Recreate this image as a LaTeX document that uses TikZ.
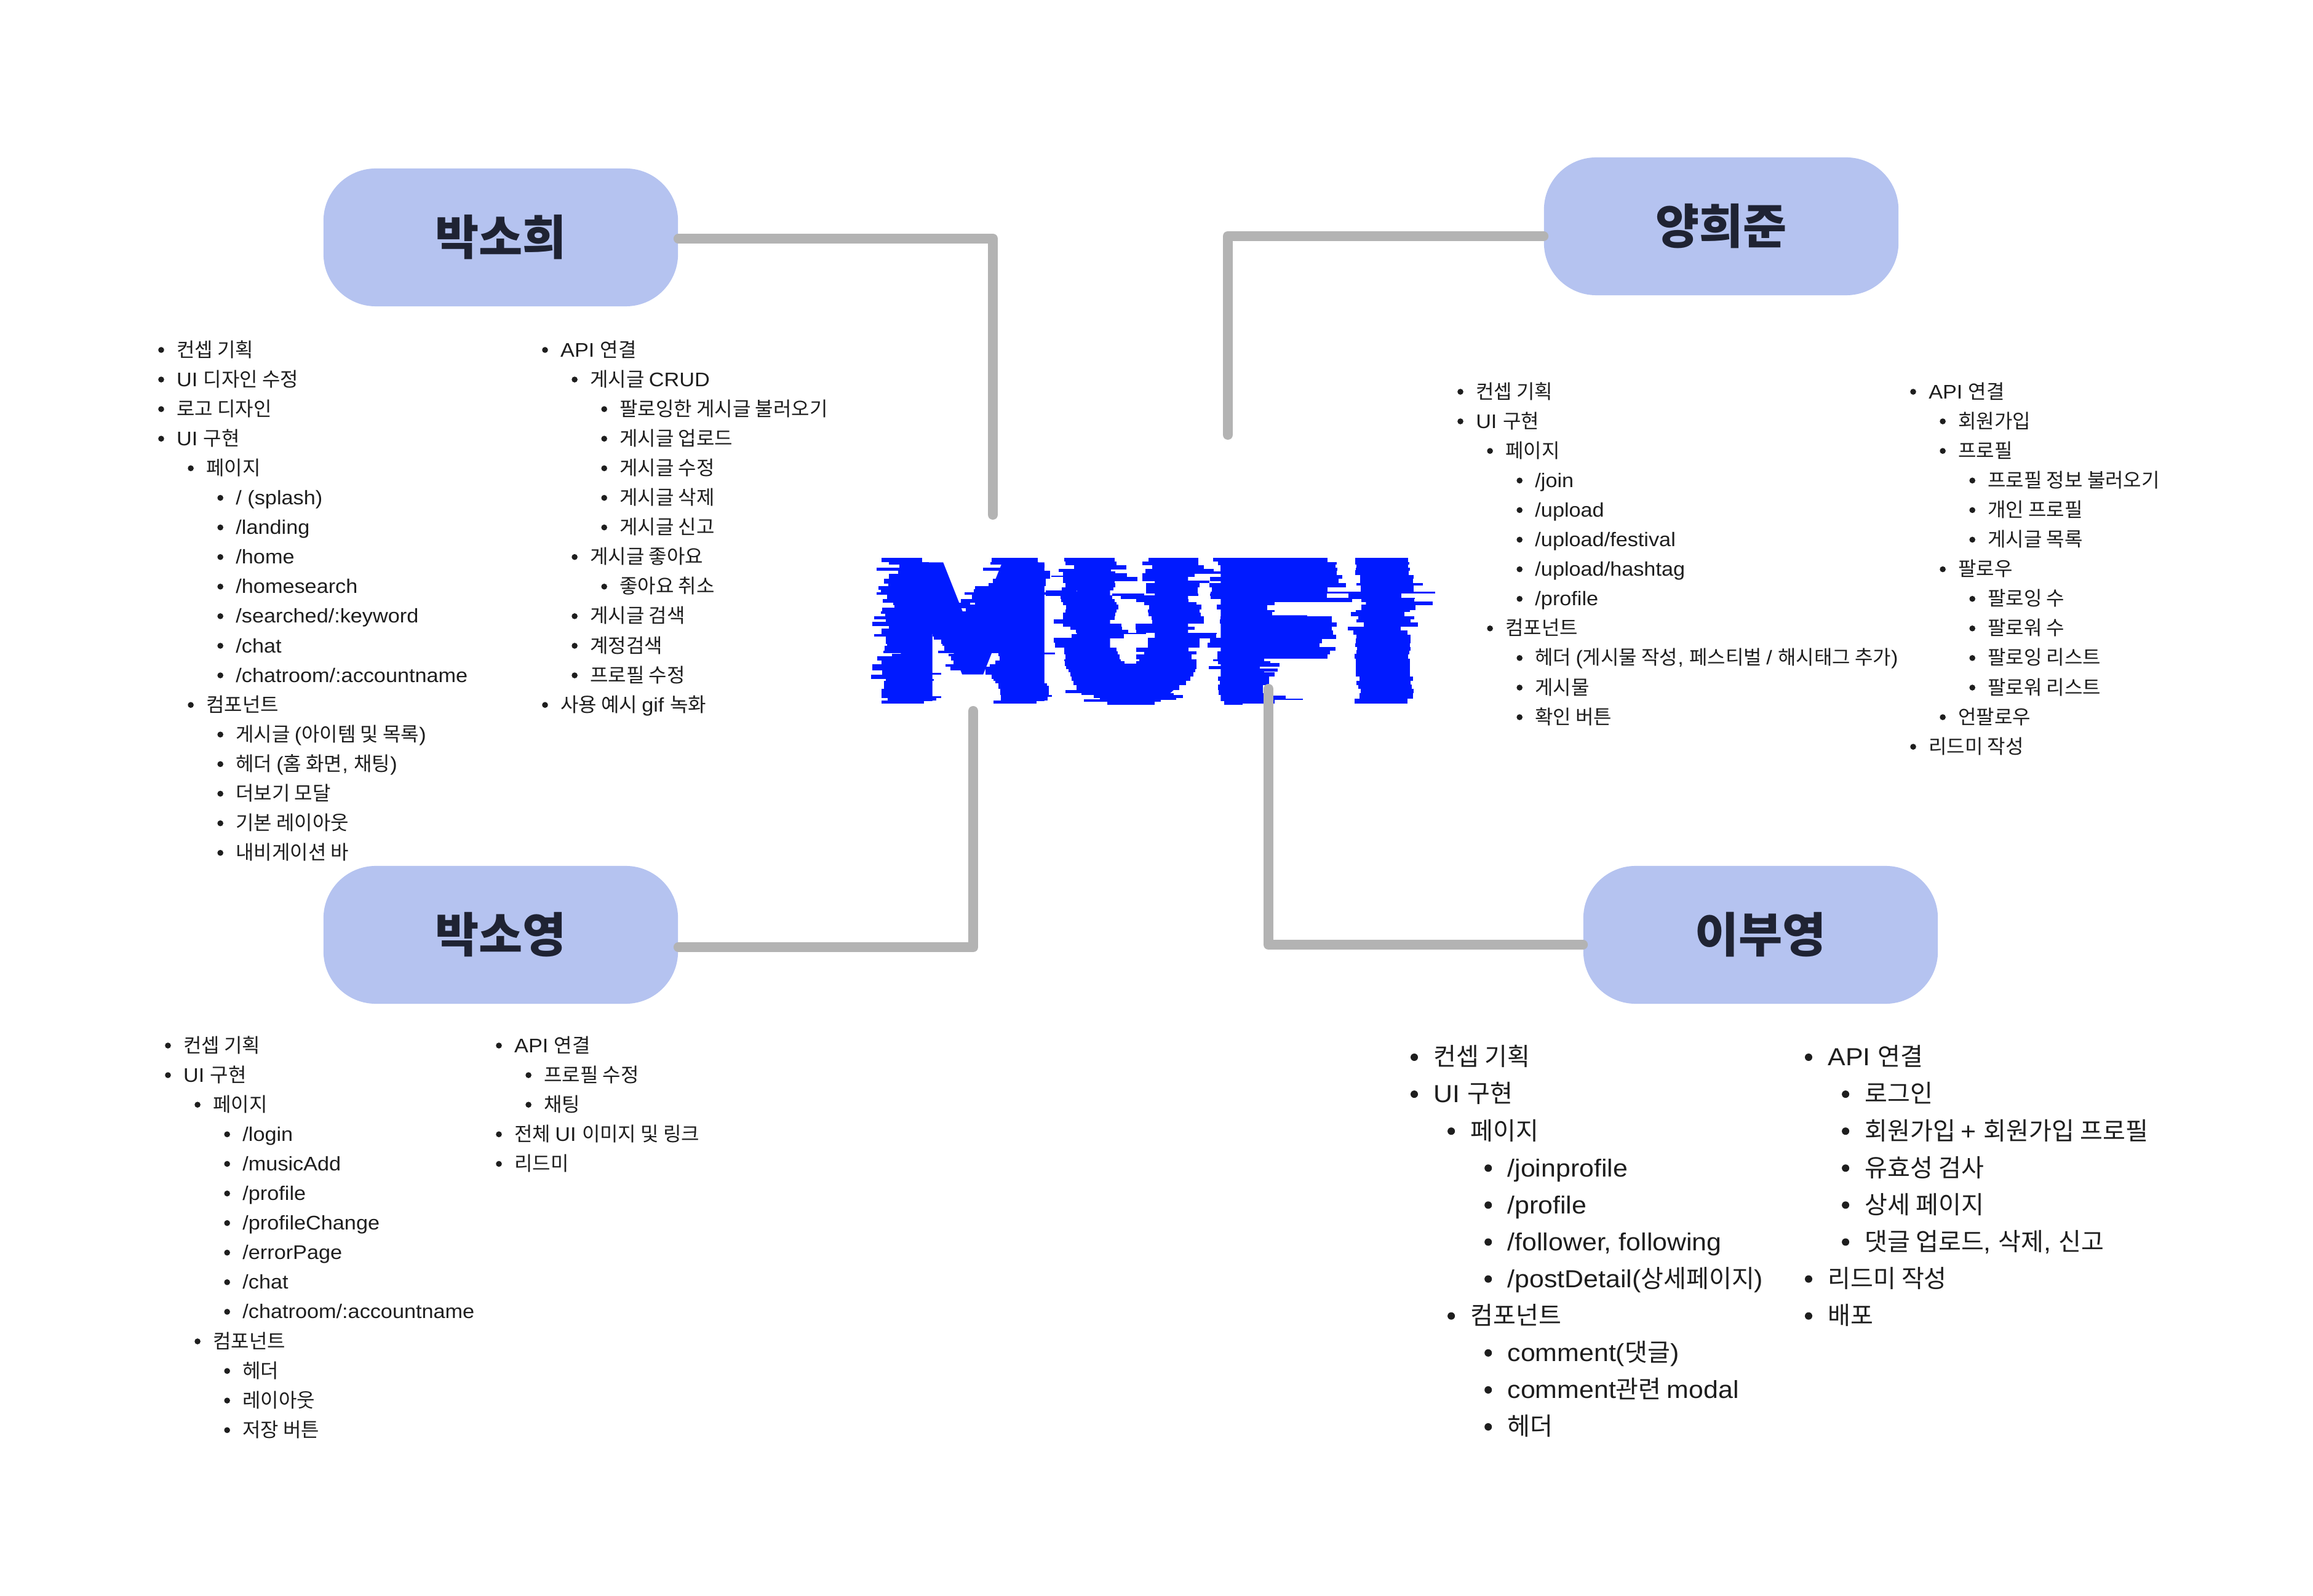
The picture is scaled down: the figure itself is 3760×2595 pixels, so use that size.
\documentclass[tikz,border=0pt]{standalone}
\usepackage{fontspec}
\setmainfont{Liberation Sans}
\newfontfamily\latinfont[FakeStretch=1.07]{Liberation Sans}
\newfontfamily\krfont{Noto Sans CJK KR}
\newfontfamily\mufifont{DejaVu Sans Bold}
% hangul goes to the korean font, the rest stays latin
\XeTeXinterchartokenstate=1
\newXeTeXintercharclass\krclass
\count255="AC00
\loop\XeTeXcharclass\count255=\krclass\ifnum\count255<"D7A3 \advance\count255 by 1 \repeat
\XeTeXinterchartoks 0 \krclass={\krfont}
\XeTeXinterchartoks 4095 \krclass={\krfont}
\XeTeXinterchartoks \krclass 0={\latinfont}
\XeTeXinterchartoks 4095 0={\latinfont}
\newcommand{\mufistyle}{\XeTeXinterchartokenstate=0\relax\fontsize{88}{96}\mufifont}
\definecolor{boxblue}{HTML}{B5C3F0}
\definecolor{linegray}{HTML}{B3B3B3}
\definecolor{logoblue}{HTML}{001AFF}
\definecolor{inkdark}{HTML}{1E1E1E}
\definecolor{titledark}{HTML}{1F2333}
\tikzset{
  namebox/.style={fill=boxblue,rounded corners=0.85cm,minimum width=5.76cm,minimum height=2.24cm,inner sep=0pt,text=titledark,font=\fontsize{22}{26}\selectfont\bfseries},
  link/.style={draw=linegray,line width=0.16cm,line cap=round,line join=round},
  smalltext/.style={font=\fontsize{9.1}{11}\selectfont},
  bigtext/.style={font=\fontsize{11.4}{14}\selectfont},
  logotext/.style={text=logoblue,inner sep=0pt,xscale=0.93,transform shape,font=\mufistyle}
}
% name, bullet x, first y, line pitch, text style, lines
\newcommand{\bulletlist}[6]{
  \foreach \lvl/\txt [count=\n from 0] in {#6} {
    \fill[inkdark] (#2+\lvl*#4,#3+\n*#4) circle (0.1*#4);
    \node[#5,text=inkdark,inner sep=0pt,anchor=base west] (#1-\n) at (#2+\lvl*#4+0.51*#4,#3+\n*#4+0.23*#4) {\txt};
  }
}
% glitch strips of the logo: left x, then rows y1/y2/{x1/x2,...}, in thirds of a pixel
\newcommand{\glitchrows}[2]{
  \begin{scope}[shift={(#1,900)},x=0.01cm/3,y=-0.01cm/3]
  \foreach \ya/\yb/\spans in {#2}
    \foreach \xa/\xb in \spans
      \fill[logoblue] (\xa,\ya) rectangle (\xb,\yb+1);
  \end{scope}
}
\begin{document}
\begin{tikzpicture}[x=0.01cm,y=-0.01cm]
\useasboundingbox (0,0) rectangle (3760,2595);
\fill[white] (0,0) rectangle (3760,2595);

\node[namebox] (soheeBox) at (814,386) {박소희};
\node[namebox] (junBox) at (2798,368) {양희준};
\node[namebox] (soyoungBox) at (814,1520) {박소영};
\node[namebox] (buyoungBox) at (2862,1520) {이부영};

% logo
\node[logotext] (logo) at (1870,1030) {MUF\kern12pt I};
\glitchrows{1410}{20/42/{70/268,605/832},42/52/{105/300,600/835},52/68/{157/325,672/865},68/83/{45/325,565/810},83/98/{150/380,665/890},98/122/{105/390,660/890},122/145/{80/345,612/870},145/158/{102/385,590/870},158/175/{55/330,525/835},175/190/{65/350,520/835},190/200/{45/330,475/870},200/222/{97/430,510/835},222/240/{75/390,455/820},240/250/{125/500,525/860},250/265/{132/800},265/282/{72/418,480/843},282/292/{65/408,452/835},292/305/{88/842},305/321/{32/775},321/332/{90/840},332/352/{25/765},352/366/{105/860},366/378/{70/835},378/392/{70/300,315/600,628/820},392/403/{32/298,318/578,608/775},403/420/{90/295,325/570,610/845},420/440/{90/282,360/562,595/830},440/450/{95/310,365/555,590/830},450/475/{85/310,375/548,590/835},475/484/{78/300,345/640,640/860},484/490/{170/300,640/915},490/500/{120/290,395/535,640/820},500/522/{48/243,408/535,645/858},522/540/{68/278,420/518,625/818},540/552/{25/238,382/522,598/818},552/570/{25/240,405/495,575/812},570/582/{72/240,575/812},582/590/{72/360,575/812},590/612/{18/252,605/840},612/620/{90/325,615/815},620/632/{80/305,625/845},632/645/{80/305,640/875},645/660/{80/308,640/885},660/690/{70/285,648/885},690/697/{70/285,650/900},697/703/{70/360,650/880},703/716/{98/335,650/880},716/730/{70/275,615/825}}
\glitchrows{1700}{20/38/{90/335,500/745,815/960},38/56/{95/345,472/745,840/960},56/76/{138/392,518/770,852/960},76/88/{63/318,485/820,852/960},88/97/{85/340,485/852,852/960},97/108/{85/395,470/725,875/960},108/113/{28/395,470/725,878/960},113/133/{85/448,470/622,800/960},133/143/{85/335,540/798,860/960},143/165/{95/340,490/750,798/960},165/180/{78/330,488/740,810/960},180/185/{0/150,488/740,810/960},185/194/{0/155,488/740,805/955},194/205/{0/247,325/480,620/745,800/955},205/222/{72/325,365/693,805/960},222/236/{75/335,440/695,945/960},236/250/{85/345,480/735,870/960},250/272/{100/355,505/760,835/960},272/287/{95/345,498/750,865/960},287/305/{85/340,500/755,858/960},305/322/{85/337,515/770,852/960},322/342/{40/295,518/772,850/960},342/357/{85/370,438/690,872/960},357/372/{120/372,438/727,855/960},372/387/{148/402,440/692,855/960},387/393/{230/490,630/833,855/960},393/412/{125/380,578/830,868/960},412/435/{40/295,497/750,800/960},435/458/{45/300,497/750,790/960},458/478/{90/345,440/695,865/960},478/492/{90/352,480/735,838/960},492/515/{97/360,442/712,838/960},515/525/{90/365,455/735,815/960},525/538/{92/385,440/735,840/960},538/548/{92/735,890/960},548/562/{100/735,795/960},562/578/{110/728,885/960},578/600/{120/720,868/960},600/620/{125/705,840/960},620/640/{135/685,848/960},640/665/{150/650,840/960},665/680/{95/570,842/960},680/690/{175/625,842/960},690/705/{235/670,890/960},705/712/{265/635},712/722/{185/560,870/960},722/738/{300/530,870/960}}
\glitchrows{2020}{20/42/{0/415,550/808},42/52/{0/458,548/812},52/68/{0/452,555/808},68/82/{0/462,552/815},82/105/{0/460,548/810},105/122/{0/485,572/835},122/145/{0/468,572/832},145/155/{0/505,555/880},155/165/{0/505,575/835},165/185/{0/415,575/835},185/195/{0/678,678/940},195/215/{0/410,515/775},215/222/{0/540,540/840},222/235/{0/535,580/838},235/250/{0/155,665/928},250/275/{0/120,580/842},275/285/{0/155,553/815},285/305/{0/145,527/788},305/320/{0/435,565/838},320/335/{0/435,555/820},335/357/{0/458,592/855},357/375/{0/435,512/772},375/395/{0/440,540/805},395/415/{0/455,555/818},415/437/{0/388,552/820},437/455/{0/375,550/815},455/472/{0/452,557/820},472/490/{0/425,555/812},490/512/{0/415,545/808},512/525/{0/105,552/815},525/535/{0/135,552/815},535/550/{0/180,552/815},550/560/{0/85,552/815},560/575/{0/172,552/815},575/580/{0/105,552/815},580/600/{0/157,552/815},600/620/{0/128,570/832},620/640/{0/130,555/818},640/660/{0/100,565/825},660/680/{0/100,575/835},680/692/{0/145,570/830},692/708/{0/210,570/830},708/712/{45/293,545/805},712/730/{0/155,545/805}}

\coordinate (soheeEnd) at (1614,837);
\coordinate (junEnd) at (1996,707);
\coordinate (soyoungEnd) at (1582,1156);
\coordinate (buyoungEnd) at (2062,1120);
\draw[link] ([yshift=-0.02cm]soheeBox.east) -| (soheeEnd);
\draw[link] ([yshift=-0.16cm]junBox.west) -| (junEnd);
\draw[link] ([yshift=-0.2cm]soyoungBox.east) -| (soyoungEnd);
\draw[link] ([yshift=-0.16cm]buyoungBox.west) -| (buyoungEnd);

% sohee
\bulletlist{soheeA}{262}{569}{48.1}{smalltext}{0/{컨셉 기획},0/{UI 디자인 수정},0/{로고 디자인},0/{UI 구현},1/{페이지},2/{/ (splash)},2/{/landing},2/{/home},2/{/homesearch},2/{/searched/:keyword},2/{/chat},2/{/chatroom/:accountname},1/{컴포넌트},2/{게시글 (아이템 및 목록)},2/{헤더 (홈 화면, 채팅)},2/{더보기 모달},2/{기본 레이아웃},2/{내비게이션 바}}
\bulletlist{soheeB}{886}{569}{48.1}{smalltext}{0/{API 연결},1/{게시글 CRUD},2/{팔로잉한 게시글 불러오기},2/{게시글 업로드},2/{게시글 수정},2/{게시글 삭제},2/{게시글 신고},1/{게시글 좋아요},2/{좋아요 취소},1/{게시글 검색},1/{계정검색},1/{프로필 수정},0/{사용 예시 gif 녹화}}
% huijun
\bulletlist{junA}{2374}{637}{48.1}{smalltext}{0/{컨셉 기획},0/{UI 구현},1/{페이지},2/{/join},2/{/upload},2/{/upload/festival},2/{/upload/hashtag},2/{/profile},1/{컴포넌트},2/{헤더 (게시물 작성, 페스티벌 / 해시태그 추가)},2/{게시물},2/{확인 버튼}}
\bulletlist{junB}{3110}{637}{48.1}{smalltext}{0/{API 연결},1/{회원가입},1/{프로필},2/{프로필 정보 불러오기},2/{개인 프로필},2/{게시글 목록},1/{팔로우},2/{팔로잉 수},2/{팔로워 수},2/{팔로잉 리스트},2/{팔로워 리스트},1/{언팔로우},0/{리드미 작성}}
% soyoung
\bulletlist{soyoungA}{273}{1700}{48.1}{smalltext}{0/{컨셉 기획},0/{UI 구현},1/{페이지},2/{/login},2/{/musicAdd},2/{/profile},2/{/profileChange},2/{/errorPage},2/{/chat},2/{/chatroom/:accountname},1/{컴포넌트},2/{헤더},2/{레이아웃},2/{저장 버튼}}
\bulletlist{soyoungB}{811}{1700}{48.1}{smalltext}{0/{API 연결},1/{프로필 수정},1/{채팅},0/{전체 UI 이미지 및 링크},0/{리드미}}
% buyoung
\bulletlist{buyoungA}{2299}{1719}{60.1}{bigtext}{0/{컨셉 기획},0/{UI 구현},1/{페이지},2/{/joinprofile},2/{/profile},2/{/follower, following},2/{/postDetail(상세페이지)},1/{컴포넌트},2/{comment(댓글)},2/{comment관련 modal},2/{헤더}}
\bulletlist{buyoungB}{2940}{1719}{60.1}{bigtext}{0/{API 연결},1/{로그인},1/{회원가입 + 회원가입 프로필},1/{유효성 검사},1/{상세 페이지},1/{댓글 업로드, 삭제, 신고},0/{리드미 작성},0/{배포}}
\end{tikzpicture}
\end{document}
